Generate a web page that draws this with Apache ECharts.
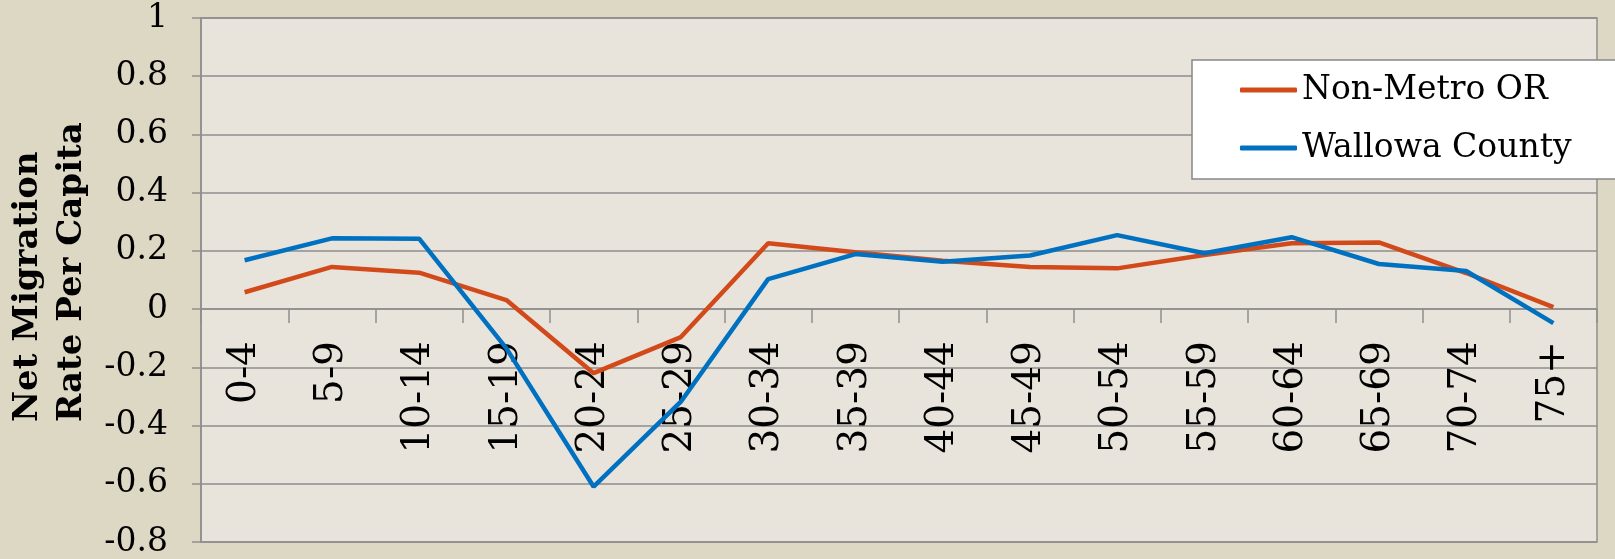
<!DOCTYPE html>
<html>
<head>
<meta charset="utf-8">
<script src="https://cdn.jsdelivr.net/npm/echarts@6/dist/echarts.min.js"></script>
<style>
html,body{margin:0;padding:0;background:#ddd8c3;}
#chart{width:1615px;height:559px;}
</style>
</head>
<body>
<div id="chart"></div>
<script>
const categories = ['0-4','5-9','10-14','15-19','20-24','25-29','30-34','35-39','40-44','45-49','50-54','55-59','60-64','65-69','70-74','75+'];
const nonMetroOR = [0.058, 0.145, 0.125, 0.031, -0.22, -0.096, 0.226, 0.195, 0.166, 0.145, 0.14, 0.186, 0.226, 0.229, 0.124, 0.007];
const wallowaCounty = [0.168, 0.243, 0.242, -0.135, -0.61, -0.318, 0.103, 0.189, 0.163, 0.184, 0.254, 0.192, 0.247, 0.155, 0.131, -0.048];
const seriesNames = ['Non-Metro OR', 'Wallowa County'];
const yTitleLines = ['Net Migration', 'Rate Per Capita'];
const yMin = -0.8, yMax = 1, yStep = 0.2;

const W = 1615, H = 559;
const gridTop = 18, gridBottom = 17;
const gridH = H - gridTop - gridBottom;
const zeroOffset = gridH * (0 - yMin) / (yMax - yMin);

const gridColor = '#8e8e8e';
const font = 'DejaVu Serif';
const chart = echarts.init(document.getElementById('chart'));
chart.setOption({
  backgroundColor: '#ddd8c3',
  animation: false,
  grid: {
    left: 201, right: 18, top: gridTop, bottom: gridBottom,
    outerBoundsMode: 'none', containLabel: false,
    show: true, backgroundColor: '#e8e4dc',
    borderColor: gridColor, borderWidth: 1.5
  },
  legend: {
    orient: 'vertical',
    left: 1192, top: 60,
    padding: [10, 200, 11, 48],
    itemGap: 18,
    itemWidth: 57, itemHeight: 5,
    icon: 'roundRect',
    backgroundColor: '#ffffff',
    borderColor: '#888888', borderWidth: 1.5,
    textStyle: { fontFamily: font, fontSize: 33, color: '#000', lineHeight: 40 },
    data: seriesNames
  },
  xAxis: {
    type: 'category',
    data: categories,
    position: 'bottom',
    offset: -zeroOffset,
    axisLine: { onZero: false, lineStyle: { color: gridColor, width: 1.5 } },
    axisTick: { show: true, length: 14, lineStyle: { color: gridColor, width: 1.5 } },
    axisLabel: { rotate: 90, margin: 32, fontFamily: font, fontSize: 39, color: '#000' },
    splitLine: { show: false }
  },
  yAxis: {
    type: 'value',
    min: yMin, max: yMax, interval: yStep,
    axisLine: { show: true, lineStyle: { color: gridColor, width: 1.5 } },
    axisTick: { show: true, length: 9, lineStyle: { color: gridColor, width: 1.5 } },
    axisLabel: { margin: 33, fontFamily: font, fontSize: 33, color: '#000',
      formatter: v => String(Math.round(v * 10) / 10) },
    splitLine: { show: true, lineStyle: { color: gridColor, width: 1.5 } }
  },
  graphic: yTitleLines.map((t, i) => ({
    type: 'text',
    x: 28 + i * 44, y: 422,
    rotation: Math.PI / 2,
    style: { text: t, fontFamily: font, fontWeight: 'bold', fontSize: 34, fill: '#000',
      textAlign: 'left', textVerticalAlign: 'middle' }
  })),
  series: [
    { name: seriesNames[0], type: 'line', data: nonMetroOR, symbol: 'none',
      lineStyle: { color: '#d34a1a', width: 4.5 }, itemStyle: { color: '#d34a1a' } },
    { name: seriesNames[1], type: 'line', data: wallowaCounty, symbol: 'none',
      lineStyle: { color: '#0070c0', width: 4.5 }, itemStyle: { color: '#0070c0' } }
  ]
});
</script>
</body>
</html>
